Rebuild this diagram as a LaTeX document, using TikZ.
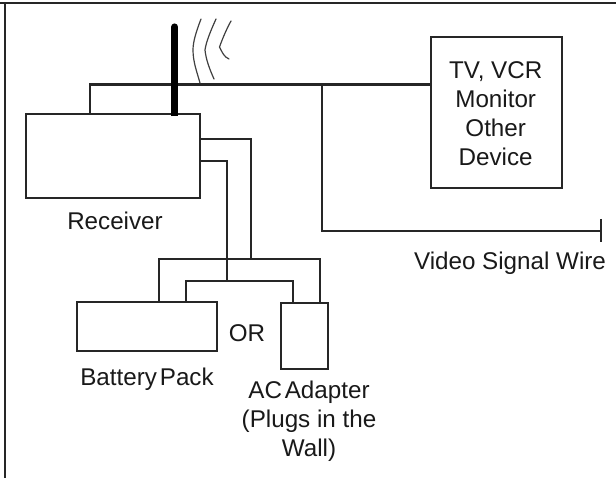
\documentclass[tikz,border=0pt]{standalone}
\usepackage{fontspec}
\setmainfont{Liberation Sans}
\tikzset{
  wire/.style={draw=black!85,line width=2.1pt},
  box/.style={draw=black!85,line width=2.4pt,fill=white,inner sep=0pt,outer sep=0pt,minimum width=#1},
  box/.default=10pt,
  lbl/.style={font=\fontsize{24.2}{29}\selectfont,align=center,inner sep=0pt,text=black!90},
  wave/.style={draw=black!75,line width=1.2pt,line cap=round}
}
\begin{document}
\begin{tikzpicture}[x=1pt,y=-1pt]
\useasboundingbox (0,0) rectangle (616,478);
\fill[white] (0,0) rectangle (616,478);
\coordinate (bl) at (5,478);
\coordinate (tl) at (5,3);
\coordinate (tl0) at (0,3);
\coordinate (tr) at (616,3);
\draw[line width=1.2pt,draw=black!85] (tl0) -- (tr);
\draw[line width=1.4pt,draw=black!85] (tl) -- (bl);
% boxes
\node[box=174pt,minimum height=84pt] (rx) at (113,156) {};
\node[box=131pt,minimum height=151pt] (tv) at (496.5,112.5) {};
\node[box=140pt,minimum height=49pt] (bat) at (147,326.5) {};
\node[box=47pt,minimum height=66pt] (ac) at (304.5,336) {};
% labels
\node[lbl] (tvt) at (495.7,113.5) {TV, VCR\\Monitor\\Other\\Device};
\node[lbl] (rxl) at (115,221) {Receiver};
\node[lbl] (vsl) at (510,263) {Video Signal Wire};
\node[lbl] (orl) at (247,333) {OR};
\node[lbl] (batl) at (147,379) {{\spaceskip=.12em Battery Pack}};
\node[lbl] (acl) at (309,421) {{\spaceskip=.12em AC Adapter}\\(Plugs in the\\Wall)};
% wires
\coordinate (jn) at (322,84.5);
\coordinate (sigcorner) at (322,231);
\coordinate (sigend) at (601,231);
\coordinate (tick1) at (601,219);
\coordinate (tick2) at (601,242);
\draw[wire] (90,114) |- (tv.west |- jn);
\draw[wire] (jn) -- (sigcorner) -- (sigend);
\draw[line width=1.3pt,draw=black!85] (tick1) -- (tick2);
\draw[wire] (200,139) -| (251,259);
\draw[wire] (200,161) -| (227,281);
\draw[wire] (159,301) |- (320,259) -- (320,303);
\draw[wire] (186,301) |- (293,281) -- (293,303);
% antenna
\draw[line width=7.2pt,line cap=round,draw=black] (174.6,27) -- (174.6,100);
\draw[line width=7.2pt,draw=black] (174.6,90) -- (174.6,116.5);
% waves
\draw[wave] (201,19) .. controls (196,32) and (193,42) .. (193,50) .. controls (193,62) and (197,72) .. (200,83);
\draw[wave] (216,19) .. controls (211,30) and (206,42) .. (205,50) .. controls (206,60) and (210,70) .. (214,79);
\draw[wave] (231,21) .. controls (226,30) and (222,40) .. (219.5,47) .. controls (222,52) and (224,57) .. (229,59);
\end{tikzpicture}
\end{document}
